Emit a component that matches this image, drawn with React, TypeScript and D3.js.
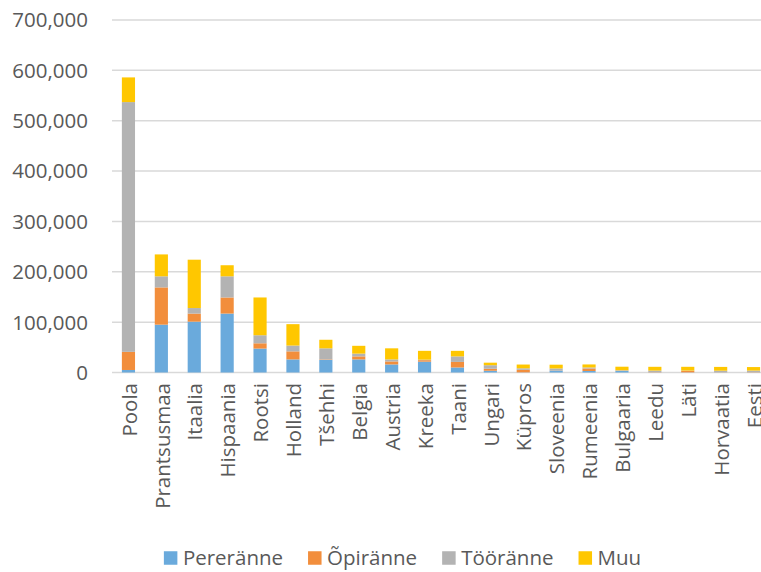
import React, { useEffect, useRef } from "react";
import * as d3 from "d3";

const categories = [
  "Poola", "Prantsusmaa", "Itaalia", "Hispaania", "Rootsi", "Holland", "Tšehhi",
  "Belgia", "Austria", "Kreeka", "Taani", "Ungari", "Küpros", "Sloveenia",
  "Rumeenia", "Bulgaaria", "Leedu", "Läti", "Horvaatia", "Eesti",
];

const seriesNames = ["Pereränne", "Õpiränne", "Tööränne", "Muu"];

const pereranne = [5000, 95000, 101000, 117000, 47500, 26000, 25000, 26000, 16000, 21500, 10000, 3500, 300, 4000, 3000, 3000, 300, 300, 300, 300];
const opiranne = [36000, 74000, 16000, 32000, 10500, 16000, 1000, 6000, 6000, 3000, 11000, 4000, 5000, 500, 5000, 500, 500, 3000, 300, 500];
const tooranne = [496000, 22000, 11000, 42000, 16000, 11500, 22000, 5500, 4000, 1000, 11000, 7000, 3000, 3500, 2000, 1000, 3000, 500, 3000, 3000];
const muu = [49000, 43500, 96000, 22000, 75000, 42500, 17000, 15500, 22000, 17500, 11000, 5000, 7500, 7500, 6000, 7000, 7500, 7500, 7500, 7000];

const yTicks = [0, 100000, 200000, 300000, 400000, 500000, 600000, 700000];

const colors = ["#6AAADC", "#F28E3C", "#B3B3B3", "#FFC700"];

const W = 761;
const H = 572;
const FONT = "'Open Sans', sans-serif";
const FS = 20.5;
const TEXT = "#595959";

export default function App() {
  const ref = useRef<SVGSVGElement | null>(null);

  useEffect(() => {
    const svg = d3.select(ref.current);
    svg.selectAll("*").remove();

    // the plot area runs past the right edge of the drawing
    const plot = { left: 112, right: 770, top: 20, bottom: 372.5 };

    const x = d3
      .scaleBand<string>()
      .domain(categories)
      .range([plot.left, plot.right])
      .paddingInner(0.6)
      .paddingOuter(0.3);

    const y = d3.scaleLinear().domain([0, 700000]).range([plot.bottom, plot.top]);

    const rows = categories.map((c, i) => ({
      cat: c,
      Pereränne: pereranne[i],
      Õpiränne: opiranne[i],
      Tööränne: tooranne[i],
      Muu: muu[i],
    }));

    const stacked = d3.stack<any>().keys(seriesNames)(rows);

    // gridlines
    svg
      .append("g")
      .selectAll("line")
      .data(yTicks)
      .join("line")
      .attr("x1", plot.left)
      .attr("x2", W)
      .attr("y1", (d) => y(d))
      .attr("y2", (d) => y(d))
      .attr("stroke", "#d9d9d9")
      .attr("stroke-width", 1.5);

    // y-axis labels
    svg
      .append("g")
      .selectAll("text")
      .data(yTicks)
      .join("text")
      .attr("x", 88)
      .attr("y", (d) => y(d))
      .attr("dy", "0.36em")
      .attr("text-anchor", "end")
      .attr("font-family", FONT)
      .attr("font-size", FS)
      .attr("fill", TEXT)
      .text((d) => d3.format(",")(d));

    // stacked bars
    svg
      .append("g")
      .selectAll("g")
      .data(stacked)
      .join("g")
      .attr("fill", (_d, i) => colors[i])
      .selectAll("rect")
      .data((d) => d)
      .join("rect")
      .attr("x", (d: any) => x(d.data.cat)!)
      .attr("width", x.bandwidth())
      .attr("y", (d) => y(d[1]))
      .attr("height", (d) => y(d[0]) - y(d[1]));

    // category labels, rotated
    svg
      .append("g")
      .selectAll("text")
      .data(categories)
      .join("text")
      .attr(
        "transform",
        (d) => `translate(${x(d)! + x.bandwidth() / 2},383) rotate(-90)`
      )
      .attr("dy", "0.4em")
      .attr("text-anchor", "end")
      .attr("font-family", FONT)
      .attr("font-size", FS)
      .attr("fill", TEXT)
      .text((d) => d);

    // legend
    const legend = svg.append("g");
    const sw = 13.5;
    const items = legend.selectAll("g").data(seriesNames).join("g");
    items
      .append("rect")
      .attr("width", sw)
      .attr("height", sw)
      .attr("y", -sw / 2)
      .attr("fill", (_d, i) => colors[i]);
    items
      .append("text")
      .attr("x", sw + 5.5)
      .attr("dy", "0.36em")
      .attr("font-family", FONT)
      .attr("font-size", FS)
      .attr("fill", TEXT)
      .text((d) => d);

    const widths: number[] = [];
    items.each(function () {
      const t = d3.select(this).select("text").node() as SVGTextElement;
      widths.push(sw + 5.5 + t.getComputedTextLength());
    });
    const gap = 25;
    const total = d3.sum(widths) + gap * (widths.length - 1);
    let cx = 402.5 - total / 2;
    items.attr("transform", (_d, i) => {
      const t = `translate(${cx},558)`;
      cx += widths[i] + gap;
      return t;
    });
  }, []);

  return (
    <svg
      ref={ref}
      width={W}
      height={H}
      style={{ position: "absolute", left: 0, top: 0, background: "#fff" }}
    />
  );
}
